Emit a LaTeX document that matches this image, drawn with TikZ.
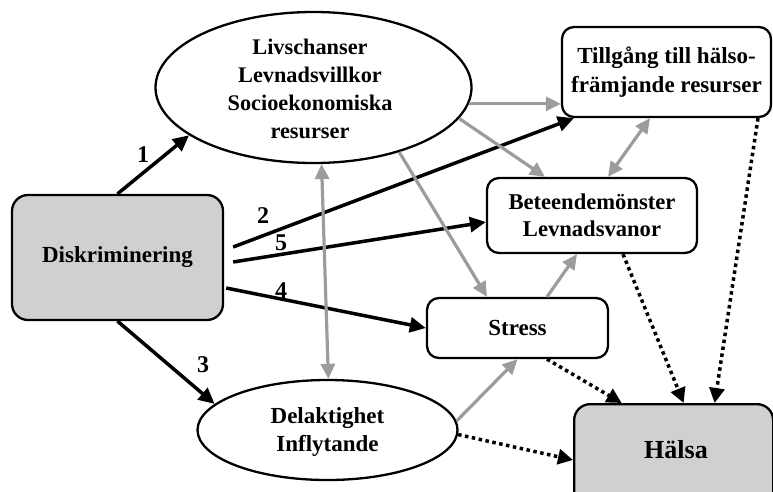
\documentclass[tikz,border=0pt]{standalone}
\usepackage{fontspec}
\setmainfont{Liberation Serif}
\usetikzlibrary{arrows.meta,shapes.geometric}
\definecolor{boxgray}{HTML}{D0D0D0}
\definecolor{arrgray}{HTML}{9C9C9C}
\tikzset{
  rbox/.style={draw=black,line width=2.3pt,rounded corners=12pt,inner sep=0pt,align=center,
    font=\fontsize{23}{28.5}\selectfont\bfseries},
  ell/.style={draw=black,line width=2.3pt,ellipse,inner sep=0pt},
  txt/.style={align=center,inner sep=0pt,font=\fontsize{23}{28.5}\selectfont\bfseries},
  num/.style={inner sep=0pt,font=\fontsize{24}{26}\selectfont\bfseries},
  blk/.style={line width=3.5pt,-{Triangle[length=16pt,width=15pt]}},
  gry/.style={draw=arrgray,line width=3.2pt,-{Triangle[length=15pt,width=14pt]}},
  gry2/.style={draw=arrgray,line width=3.2pt,{Triangle[length=15pt,width=14pt]}-{Triangle[length=15pt,width=14pt]}},
  dot/.style={line width=3.5pt,dash pattern=on 3.5pt off 3.5pt,-{Triangle[length=15pt,width=15pt]}},
}
\begin{document}
\begin{tikzpicture}[x=1pt,y=-1pt]
\useasboundingbox (0,0) rectangle (773,491);
\clip (0,0) rectangle (773,491);
% nodes
\node[rbox,fill=boxgray,rounded corners=16pt,minimum width=211pt,minimum height=125pt] (disk) at (117.5,257.5) {Diskriminering};
\node[ell,minimum width=316pt,minimum height=151pt] (top) at (313.5,87.5) {};
\node[txt,font=\fontsize{22.3}{28}\selectfont\bfseries] (toptxt) at (310,89) {Livschanser\\Levnadsvillkor\\Socioekonomiska\\resurser};
\node[rbox,minimum width=209pt,minimum height=90pt] (till) at (666.5,72) {Tillgång till hälso-\\främjande resurser};
\node[rbox,font=\fontsize{22.6}{27.5}\selectfont\bfseries,minimum width=210pt,minimum height=75pt] (bet) at (592,215.5) {Beteendemönster\\Levnadsvanor};
\node[rbox,minimum width=181pt,minimum height=60pt] (stress) at (517.5,328) {Stress};
\node[ell,minimum width=260pt,minimum height=100pt] (del) at (327.5,430) {};
\node[txt] (deltxt) at (327.5,432) {Delaktighet\\Inflytande};
\node[rbox,fill=boxgray,rounded corners=16pt,minimum width=199pt,minimum height=110pt,anchor=north west] (hal) at (573,403) {};
\node[txt,font=\fontsize{26}{30}\selectfont\bfseries] (haltxt) at (676,450) {Hälsa};
% black arrows
\draw[blk] (disk.north) -- (top.-159);
\draw[blk] ([xshift=9pt,yshift=10.5pt]disk.east) -- ([xshift=13pt]till.south west);
\draw[blk] ([xshift=9pt,yshift=-4.5pt]disk.east) -- ([yshift=-6.5pt]bet.west);
\draw[blk] ([xshift=2pt,yshift=-30.5pt]disk.east) -- (stress.west);
\draw[blk] (disk.south) -- (del.167);
% number labels
\node[num] (n1) at (143,155) {1};
\node[num] (n2) at (263,216) {2};
\node[num] (n5) at (281,243) {5};
\node[num] (n4) at (281,291) {4};
\node[num] (n3) at (203,365) {3};
% gray arrows
\draw[gry] (top.-6) -- (top.-6 -| till.west);
\draw[gry] (top.-12) -- ([xshift=-47pt]bet.north);
\draw[gry2] ([xshift=-16.5pt]till.south) -- ([xshift=16pt]bet.north);
\draw[gry] (top.-37) -- ([xshift=-30.5pt]stress.north);
\draw[gry2] (top.-84) -- (del.89);
\draw[gry] ([xshift=29.5pt]stress.north) -- ([xshift=-15pt]bet.south);
\draw[gry] (del.4) -- (stress.south);
% dotted arrows
\draw[dot] ([xshift=29.5pt]stress.south) -- ([xshift=-52pt]hal.north);
\draw[dot] (del.-2.5) -- ([yshift=-57pt]hal.north west);
\draw[dot] ([xshift=31pt]bet.south) -- ([xshift=10pt]hal.north);
\draw[dot] ([xshift=91.5pt]till.south) -- ([xshift=41pt]hal.north);
\end{tikzpicture}
\end{document}
